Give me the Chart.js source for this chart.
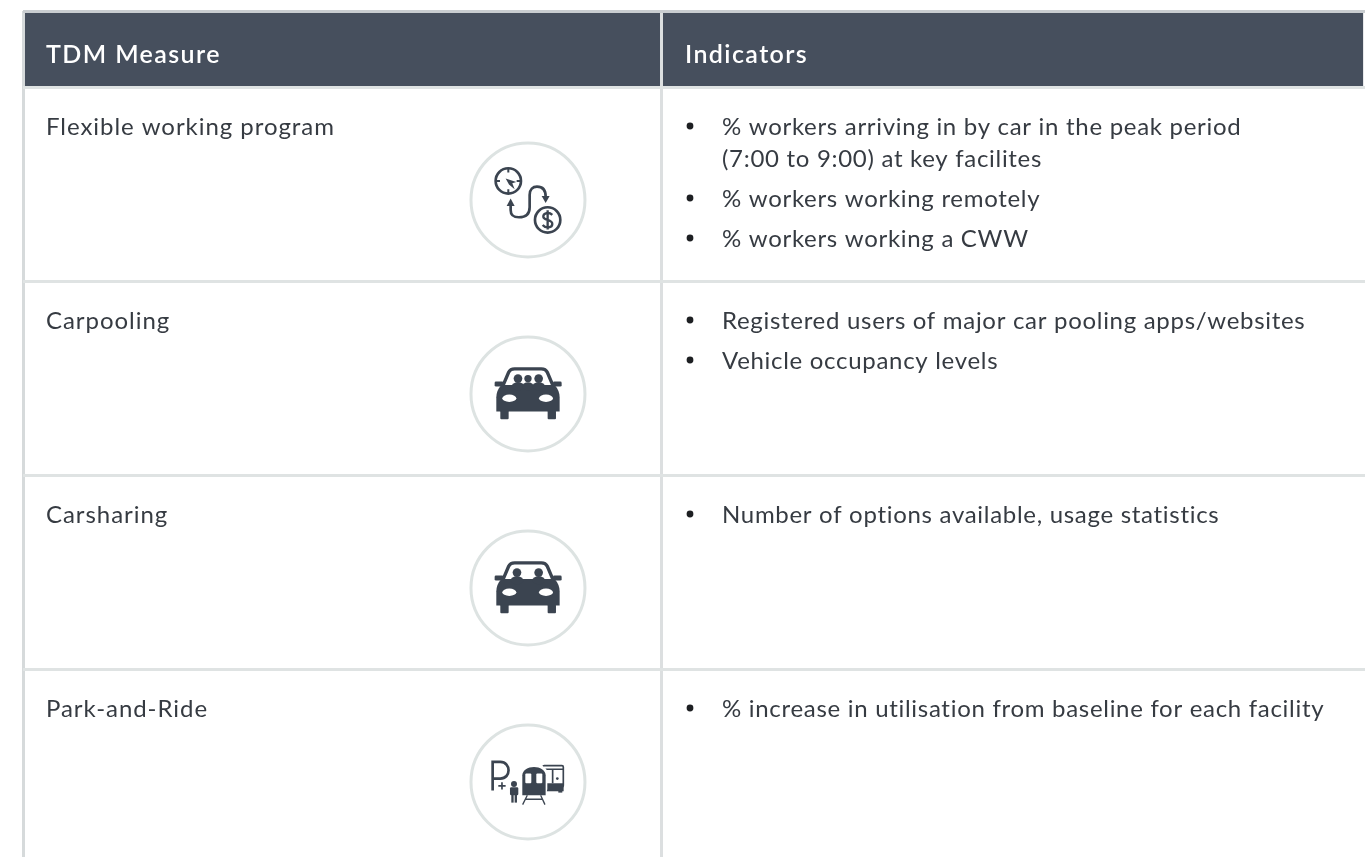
<!DOCTYPE html>
<html>
<head>
<meta charset="utf-8">
<title>TDM Measures</title>
<script src="https://cdn.jsdelivr.net/npm/chart.js@4"></script>
<style>
  html, body { margin:0; padding:0; background:#fff; overflow:hidden; }
  canvas { display:block; }
</style>
</head>
<body>
<canvas id="table-chart" width="1365" height="857"></canvas>
<script>
const headers = ['TDM Measure', 'Indicators'];
const measures = ['Flexible working program', 'Carpooling', 'Carsharing', 'Park-and-Ride'];
const indicators = [
  [['% workers arriving in by car in the peak period', '(7:00 to 9:00) at key facilites'], ['% workers working remotely'], ['% workers working a CWW']],
  [['Registered users of major car pooling apps/websites'], ['Vehicle occupancy levels']],
  [['Number of options available, usage statistics']],
  [['% increase in utilisation from baseline for each facility']]
];
const icons = ['clock', 'car3', 'car2', 'parkride'];

// x axis is in columns, y axis is in rows (row 0 starts under the header)
const headerRows = 77 / 194;
const rowTicks = [-headerRows, 0, 1, 2, 3];
const columnTicks = [0, 1];
const headerSpans = [[0, 1], [1, 2.1]];
const iconColumn = 0.7915;
const iconRowPos = 0.577;

const DARK = '#3b4450';
const TEXT = '#363b42';
const FONT = 'Lato';

function text(ctx, str, x, y, font, color, spacing) {
  ctx.font = font;
  ctx.fillStyle = color;
  ctx.letterSpacing = spacing;
  ctx.textBaseline = 'alphabetic';
  ctx.fillText(str, x, y);
  ctx.letterSpacing = '0px';
}

// icons below are sketched in 3x units around the circle centre
function drawClock(ctx) {
  ctx.translate(-205, -210);
  ctx.strokeStyle = DARK; ctx.fillStyle = DARK; ctx.lineWidth = 8; ctx.lineCap = 'butt';
  ctx.beginPath(); ctx.arc(146, 153, 38, 0, Math.PI * 2); ctx.stroke();
  ctx.lineWidth = 6;
  ctx.beginPath();
  ctx.moveTo(146, 115); ctx.lineTo(146, 128);
  ctx.moveTo(146, 178); ctx.lineTo(146, 191);
  ctx.moveTo(108, 153); ctx.lineTo(121, 153);
  ctx.moveTo(171, 153); ctx.lineTo(184, 153);
  ctx.stroke();
  ctx.beginPath();
  ctx.moveTo(138, 146); ctx.lineTo(170, 156); ctx.lineTo(158, 160); ctx.lineTo(165, 178); ctx.lineTo(148, 164);
  ctx.closePath(); ctx.fill();
  ctx.lineWidth = 8;
  ctx.beginPath(); ctx.arc(264, 270, 38, 0, Math.PI * 2); ctx.stroke();
  ctx.beginPath();
  ctx.moveTo(153, 228); ctx.lineTo(153, 240);
  ctx.bezierCurveTo(153, 260, 165, 262, 178, 262);
  ctx.bezierCurveTo(200, 262, 210, 250, 210, 232);
  ctx.lineTo(210, 195);
  ctx.bezierCurveTo(210, 178, 220, 170, 232, 170);
  ctx.bezierCurveTo(250, 170, 258, 180, 258, 200);
  ctx.stroke();
  ctx.beginPath(); ctx.moveTo(153, 206); ctx.lineTo(141, 228); ctx.lineTo(165, 228); ctx.closePath(); ctx.fill();
  ctx.beginPath(); ctx.moveTo(258, 219); ctx.lineTo(246, 198); ctx.lineTo(270, 198); ctx.closePath(); ctx.fill();
  ctx.lineWidth = 7;
  ctx.beginPath();
  ctx.moveTo(278, 255); ctx.bezierCurveTo(268, 245, 250, 248, 251, 261);
  ctx.bezierCurveTo(252, 272, 278, 268, 278, 282);
  ctx.bezierCurveTo(278, 294, 258, 296, 249, 285);
  ctx.moveTo(264, 241); ctx.lineTo(264, 299);
  ctx.stroke();
}

function drawCar(ctx, heads) {
  ctx.translate(-205, -195);
  ctx.fillStyle = DARK; ctx.strokeStyle = DARK; ctx.lineWidth = 10;
  ctx.beginPath();
  ctx.moveTo(130, 170); ctx.lineTo(147, 130);
  ctx.quadraticCurveTo(152, 120, 165, 120); ctx.lineTo(245, 120);
  ctx.quadraticCurveTo(258, 120, 263, 130); ctx.lineTo(280, 170);
  ctx.stroke();
  ctx.beginPath();
  ctx.moveTo(125, 168); ctx.lineTo(285, 168);
  ctx.quadraticCurveTo(300, 185, 300, 205); ctx.lineTo(300, 248); ctx.lineTo(110, 248); ctx.lineTo(110, 205);
  ctx.quadraticCurveTo(110, 185, 125, 168); ctx.closePath(); ctx.fill();
  heads.forEach(h => {
    ctx.beginPath(); ctx.arc(h[0], 149, h[1], 0, Math.PI * 2); ctx.fill();
    ctx.beginPath(); ctx.ellipse(h[0], 172, h[1] + 6, 12, 0, 0, Math.PI * 2); ctx.fill();
  });
  ctx.beginPath(); ctx.roundRect(105, 158, 26, 15, 4); ctx.fill();
  ctx.beginPath(); ctx.roundRect(280, 158, 26, 15, 4); ctx.fill();
  ctx.beginPath(); ctx.roundRect(122, 244, 25, 27, 3); ctx.fill();
  ctx.beginPath(); ctx.roundRect(264, 244, 25, 27, 3); ctx.fill();
  ctx.fillStyle = '#fff';
  ctx.beginPath(); ctx.ellipse(149, 208, 21, 11, 0, 0, Math.PI * 2); ctx.fill();
  ctx.beginPath(); ctx.ellipse(259, 208, 21, 11, 0, 0, Math.PI * 2); ctx.fill();
}

function drawParkRide(ctx) {
  ctx.translate(-205, -200);
  ctx.strokeStyle = DARK; ctx.fillStyle = DARK; ctx.lineWidth = 8;
  // P and plus
  ctx.beginPath();
  ctx.moveTo(99, 226); ctx.lineTo(99, 140); ctx.lineTo(122, 140);
  ctx.bezierCurveTo(155, 140, 155, 190, 122, 190); ctx.lineTo(99, 190);
  ctx.stroke();
  ctx.lineWidth = 5;
  ctx.beginPath();
  ctx.moveTo(116, 212); ctx.lineTo(138, 212);
  ctx.moveTo(127, 201); ctx.lineTo(127, 223);
  ctx.stroke();
  // person
  ctx.beginPath(); ctx.arc(163, 206, 9, 0, Math.PI * 2); ctx.fill();
  ctx.beginPath(); ctx.roundRect(151, 216, 25, 24, 4); ctx.fill();
  ctx.fillRect(155, 238, 7, 24); ctx.fillRect(165, 238, 7, 24);
  // bus
  ctx.lineWidth = 5;
  ctx.beginPath(); ctx.roundRect(250, 151, 61, 64, 4); ctx.stroke();
  ctx.beginPath(); ctx.moveTo(250, 162); ctx.lineTo(311, 162); ctx.moveTo(279, 162); ctx.lineTo(279, 204); ctx.stroke();
  ctx.fillRect(250, 204, 62, 24);
  ctx.fillRect(296, 226, 12, 6);
  ctx.beginPath(); ctx.arc(293, 190, 4, 0, Math.PI * 2); ctx.fill();
  // train
  ctx.fillStyle = '#fff';
  ctx.beginPath(); ctx.roundRect(183, 150, 80, 95, 24); ctx.fill();
  ctx.fillStyle = DARK;
  ctx.beginPath(); ctx.moveTo(188, 240); ctx.lineTo(188, 180);
  ctx.bezierCurveTo(188, 165, 205, 155, 223, 155);
  ctx.bezierCurveTo(241, 155, 258, 165, 258, 180);
  ctx.lineTo(258, 240); ctx.closePath(); ctx.fill();
  ctx.fillStyle = '#fff';
  ctx.beginPath(); ctx.roundRect(197, 175, 18, 29, 3); ctx.fill();
  ctx.beginPath(); ctx.roundRect(230, 175, 18, 29, 3); ctx.fill();
  ctx.lineWidth = 4;
  ctx.beginPath();
  ctx.moveTo(203, 240); ctx.lineTo(189, 268);
  ctx.moveTo(243, 240); ctx.lineTo(256, 268);
  ctx.moveTo(198, 252); ctx.lineTo(248, 252);
  ctx.stroke();
}

const iconDrawers = {
  clock: drawClock,
  car3: ctx => drawCar(ctx, [[175, 13], [205, 11], [237, 13]]),
  car2: ctx => drawCar(ctx, [[172, 13], [237, 13]]),
  parkride: drawParkRide
};

const tablePlugin = {
  id: 'tablePlugin',
  afterDatasetsDraw(chart) {
    const { ctx, scales: { x, y } } = chart;
    ctx.save();
    headers.forEach((h, i) => {
      text(ctx, h, x.getPixelForValue(i) + (i === 0 ? 23 : 24), y.getPixelForValue(0) - 25, '600 25px ' + FONT, '#fff', '1.4px');
    });
    measures.forEach((m, r) => {
      const top = y.getPixelForValue(r);
      text(ctx, m, x.getPixelForValue(0) + 23, top + 47, '400 24px ' + FONT, TEXT, '0.95px');
      let base = top + 47;
      indicators[r].forEach(lines => {
        ctx.fillStyle = '#1d1f22';
        ctx.beginPath();
        ctx.arc(x.getPixelForValue(1) + 29, base - 9, 3.4, 0, Math.PI * 2);
        ctx.fill();
        lines.forEach((line, l) => {
          text(ctx, line, x.getPixelForValue(1) + 61, base + l * 32, '400 24px ' + FONT, TEXT, '0.7px');
        });
        base += (lines.length - 1) * 32 + 40;
      });
      ctx.save();
      ctx.translate(x.getPixelForValue(iconColumn), y.getPixelForValue(r + iconRowPos));
      ctx.scale(1 / 3, 1 / 3);
      iconDrawers[icons[r]](ctx);
      ctx.restore();
    });
    ctx.restore();
  }
};

new Chart(document.getElementById('table-chart'), {
  type: 'bar',
  data: {
    datasets: [
      {
        type: 'scatter',
        data: measures.map((m, r) => ({ x: iconColumn, y: r + iconRowPos })),
        pointRadius: 57,
        pointHoverRadius: 57,
        pointBorderWidth: 3,
        pointBorderColor: '#dde3e2',
        pointBackgroundColor: '#fff'
      },
      {
        type: 'bar',
        data: headerSpans.map(s => ({ x: s, y: -headerRows / 2 })),
        backgroundColor: '#464f5d',
        barThickness: 77,
        borderSkipped: false,
        borderWidth: 0
      }
    ]
  },
  options: {
    indexAxis: 'y',
    responsive: false,
    animation: false,
    events: [],
    layout: { padding: { left: 23, top: 11, right: 0, bottom: 0 }, autoPadding: false },
    plugins: { legend: { display: false }, tooltip: { enabled: false } },
    scales: {
      x: {
        type: 'linear',
        min: 0,
        max: (1365 - 23) / 638,
        border: { display: false },
        ticks: { display: false },
        afterBuildTicks: scale => { scale.ticks = columnTicks.map(value => ({ value })); },
        grid: {
          z: 1,
          drawTicks: false,
          lineWidth: 3,
          color: ctx => ctx.tick && ctx.tick.value === 0 ? '#d6dadb' : '#dcdfe0'
        }
      },
      y: {
        type: 'linear',
        reverse: true,
        offset: false,
        min: -headerRows,
        max: (857 - 88) / 194,
        border: { display: false },
        ticks: { display: false },
        afterBuildTicks: scale => { scale.ticks = rowTicks.map(value => ({ value })); },
        grid: {
          z: 1,
          offset: false,
          drawTicks: false,
          lineWidth: 3,
          color: ctx => ctx.tick && ctx.tick.value < 0 ? '#c9cdd0' : '#dfe3e3'
        }
      }
    }
  },
  plugins: [tablePlugin]
});
</script>
</body>
</html>
